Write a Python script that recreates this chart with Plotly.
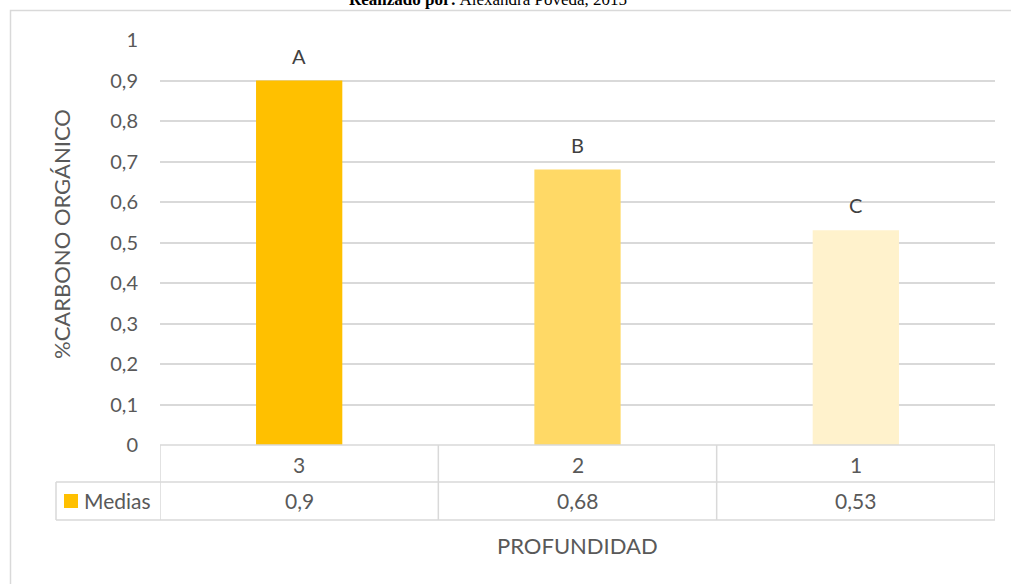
import plotly.graph_objects as go

# data
profundidad = ["3", "2", "1"]
medias = [0.9, 0.68, 0.53]
letras = ["A", "B", "C"]
bar_colors = ["#FFC000", "#FFD966", "#FFF2CC"]
y_ticks = [0, 0.1, 0.2, 0.3, 0.4, 0.5, 0.6, 0.7, 0.8, 0.9, 1]
serie_nombre = "Medias"

W, H = 1011, 584
L, R, T, B = 160, 16, 40, 139
PW, PH = W - L - R, H - T - B
GRID = "#D9D9D9"
TXT = "#595959"
FONT = "Lato, 'Open Sans', sans-serif"


def px_x(p):
    return (p - L) / PW


def px_y(p):
    return (H - B - p) / PH


fig = go.Figure(
    go.Bar(
        x=list(range(len(profundidad))),
        y=medias,
        marker={"color": bar_colors, "line": {"width": 0}},
        width=0.31,
        name=serie_nombre,
        showlegend=False,
    )
)

# letters above bars
for i, (val, letra) in enumerate(zip(medias, letras)):
    fig.add_annotation(
        x=i, y=val, text=letra, showarrow=False, xanchor="center", yanchor="middle", yshift=25,
        font={"size": 20, "color": "#404040"},
    )

shapes = []
line = {"color": GRID, "width": 1.5}
row1, row2 = px_y(482), px_y(520)
n = len(profundidad)
# vertical separators of data table
for i in range(n + 1):
    shapes.append(dict(type="line", xref="x", yref="paper", x0=i - 0.5, x1=i - 0.5,
                       y0=0, y1=row2, line=line))
# horizontal lines
shapes.append(dict(type="line", xref="paper", yref="paper", x0=0, x1=1, y0=0, y1=0, line=line))
shapes.append(dict(type="line", xref="paper", yref="paper", x0=px_x(56), x1=1, y0=row1, y1=row1, line=line))
shapes.append(dict(type="line", xref="paper", yref="paper", x0=px_x(56), x1=1, y0=row2, y1=row2, line=line))
shapes.append(dict(type="line", xref="paper", yref="paper", x0=px_x(56), x1=px_x(56), y0=row1, y1=row2, line=line))
# legend key
shapes.append(dict(type="rect", xref="paper", yref="paper", x0=px_x(64), x1=px_x(78),
                   y0=px_y(494), y1=px_y(508), fillcolor=bar_colors[0], line={"width": 0}))
# outer chart border
shapes.append(dict(type="rect", xref="paper", yref="paper", x0=px_x(10.5), x1=px_x(1030),
                   y0=px_y(10.5), y1=px_y(620), line={"color": GRID, "width": 1.5}, layer="below"))
fig.update_layout(shapes=shapes)

# table text
for i, (cat, val) in enumerate(zip(profundidad, medias)):
    fig.add_annotation(x=i, xref="x", y=px_y(464), yref="paper", text=cat, showarrow=False,
                       xanchor="center", yanchor="middle", font={"size": 21, "color": TXT})
    fig.add_annotation(x=i, xref="x", y=px_y(501), yref="paper", text=f"{val:g}".replace(".", ","),
                       showarrow=False, xanchor="center", yanchor="middle",
                       font={"size": 21, "color": TXT})
fig.add_annotation(x=px_x(82), xref="paper", xanchor="left", y=px_y(501), yref="paper",
                   yanchor="middle", text=serie_nombre, showarrow=False,
                   font={"size": 21, "color": TXT})

fig.add_annotation(x=0.5, xref="paper", xanchor="center", y=px_y(545), yref="paper",
                   yanchor="middle", text="PROFUNDIDAD", showarrow=False,
                   font={"size": 22, "color": TXT})
fig.add_annotation(x=px_x(62), xref="paper", xanchor="center", y=px_y(234), yref="paper",
                   yanchor="middle", text="%CARBONO ORGÁNICO", textangle=-90, showarrow=False,
                   font={"size": 22, "color": TXT})
# caption above the chart, cut by the top edge as in the source image
fig.add_annotation(x=px_x(488), xref="paper", xanchor="center", y=px_y(-1), yref="paper",
                   yanchor="middle", text="<b>Realizado por:</b> Alexandra Poveda, 2015",
                   showarrow=False,
                   font={"size": 17, "color": "#000000", "family": "'Liberation Serif', serif"})

fig.update_layout(
    width=W,
    height=H,
    margin={"l": L, "r": R, "t": T, "b": B, "autoexpand": False},
    paper_bgcolor="white",
    plot_bgcolor="white",
    separators=",.",
    font={"family": FONT, "color": TXT, "size": 20},
)
fig.update_xaxes(
    range=[-0.5, n - 0.5], showticklabels=False, showgrid=False,
    showline=False, zeroline=False, ticks="",
)
fig.update_yaxes(
    range=[0, 1], tickvals=y_ticks, showgrid=True, gridcolor=GRID, gridwidth=1.5,
    zeroline=False, showline=False, ticks="", ticklabelstandoff=21,
    tickfont={"size": 20, "color": TXT},
)

fig.write_html(
    "out.html",
    config={"displayModeBar": False},
    post_script="document.body.style.margin='0';",
)
